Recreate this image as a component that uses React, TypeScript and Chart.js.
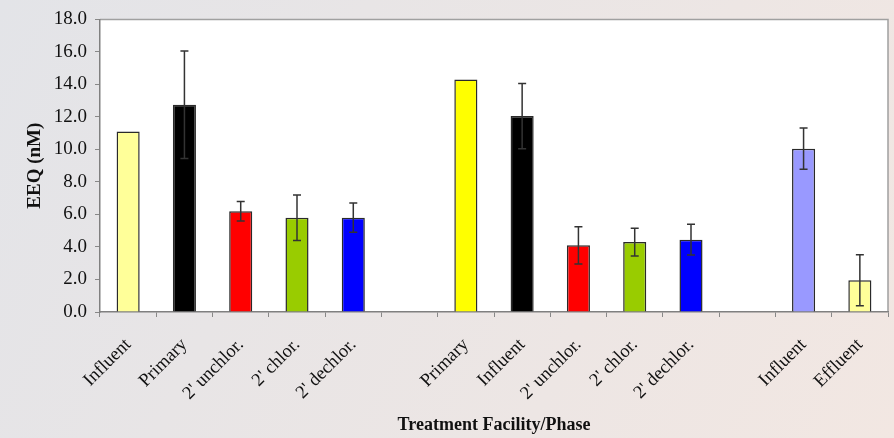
import React, { useEffect, useRef } from "react";
import { Chart, registerables } from "chart.js";

Chart.register(...registerables);

const categories = [
  "Influent", "Primary", "2' unchlor.", "2' chlor.", "2' dechlor.", "",
  "Primary", "Influent", "2' unchlor.", "2' chlor.", "2' dechlor.", "",
  "Influent", "Effluent",
];
const eeqValues = [11.1, 12.75, 6.2, 5.8, 5.8, null, 14.3, 12.05, 4.1, 4.3, 4.45, null, 10.05, 1.95];
const eeqErrors = [null, 3.3, 0.6, 1.4, 0.9, null, null, 2.0, 1.15, 0.85, 0.95, null, 1.27, 1.57];
const barColors = [
  "#ffff99", "#000000", "#ff0000", "#99cc00", "#0000ff", "#ffffff",
  "#ffff00", "#000000", "#ff0000", "#99cc00", "#0000ff", "#ffffff",
  "#9999ff", "#ffff99",
];
const yTicks = [0, 2, 4, 6, 8, 10, 12, 14, 16, 18];

const FONT = "'Liberation Serif', 'Times New Roman', serif";

const bgPlugin = {
  id: "bgPlugin",
  beforeDraw(chart: any) {
    const { ctx, width, height, chartArea } = chart;
    ctx.save();
    const g = ctx.createLinearGradient(0, 0, width, height);
    g.addColorStop(0, "#e3e4e8");
    g.addColorStop(1, "#f2e7e2");
    ctx.fillStyle = g;
    ctx.fillRect(0, 0, width, height);
    ctx.fillStyle = "#ffffff";
    ctx.fillRect(chartArea.left, chartArea.top, chartArea.right - chartArea.left, chartArea.bottom - chartArea.top);
    ctx.strokeStyle = "#a0a0a0";
    ctx.lineWidth = 1.5;
    ctx.beginPath();
    ctx.moveTo(chartArea.left, chartArea.top);
    ctx.lineTo(chartArea.right, chartArea.top);
    ctx.lineTo(chartArea.right, chartArea.bottom);
    ctx.stroke();
    ctx.restore();
  },
};

const errorBarPlugin = {
  id: "errorBarPlugin",
  afterDatasetsDraw(chart: any) {
    const { ctx } = chart;
    const meta = chart.getDatasetMeta(0);
    const y = chart.scales.y;
    ctx.save();
    ctx.strokeStyle = "#333333";
    ctx.lineWidth = 1.5;
    meta.data.forEach((bar: any, i: number) => {
      const v = eeqValues[i];
      const e = eeqErrors[i];
      if (v == null || e == null) return;
      const x = bar.x;
      const yTop = y.getPixelForValue(v + e);
      const yBot = y.getPixelForValue(Math.max(0, v - e));
      const cap = 4;
      ctx.beginPath();
      ctx.moveTo(x, yTop);
      ctx.lineTo(x, yBot);
      ctx.moveTo(x - cap, yTop);
      ctx.lineTo(x + cap, yTop);
      ctx.moveTo(x - cap, yBot);
      ctx.lineTo(x + cap, yBot);
      ctx.stroke();
    });
    ctx.restore();
  },
};

export default function App() {
  const ref = useRef<HTMLCanvasElement | null>(null);
  useEffect(() => {
    if (!ref.current) return;
    const chart = new Chart(ref.current, {
      type: "bar",
      data: {
        labels: categories,
        datasets: [
          {
            data: eeqValues as any,
            backgroundColor: barColors,
            borderColor: "#2a2a2a",
            borderWidth: 1.5,
            categoryPercentage: 1,
            barPercentage: 0.41,
          },
        ],
      },
      options: {
        animation: false,
        responsive: false,
        maintainAspectRatio: false,
        layout: { padding: { top: 15, right: 6, left: 0, bottom: 0 } },
        plugins: {
          legend: { display: false },
          tooltip: { enabled: false },
        },
        scales: {
          x: {
            afterFit(scale: any) {
              scale.height = 126;
            },
            grid: {
              display: true,
              drawOnChartArea: false,
              drawTicks: true,
              tickLength: 5,
              color: "#888888",
              offset: true,
            },
            border: { display: true, color: "#808080", width: 1.5 },
            ticks: {
              minRotation: 45,
              maxRotation: 45,
              autoSkip: false,
              padding: 17,
              color: "#111111",
              font: { family: FONT, size: 18.5 },
            },
            title: {
              display: true,
              text: "Treatment Facility/Phase",
              color: "#111111",
              font: { family: FONT, size: 18, weight: "bold" },
              padding: { top: 0, bottom: 2 },
            },
          },
          y: {
            min: 0,
            max: 18,
            afterFit(scale: any) {
              scale.width = 100;
            },
            afterBuildTicks(scale: any) {
              scale.ticks = yTicks.map((v) => ({ value: v }));
            },
            grid: {
              display: true,
              drawOnChartArea: false,
              drawTicks: true,
              tickLength: 5,
              color: "#888888",
            },
            border: { display: true, color: "#808080", width: 1.5 },
            ticks: {
              padding: 8,
              color: "#111111",
              font: { family: FONT, size: 19 },
              callback: (v: any) => Number(v).toFixed(1),
            },
            title: {
              display: true,
              text: "EEQ (nM)",
              color: "#111111",
              font: { family: FONT, size: 19, weight: "bold" },
              padding: { top: 24, bottom: 0 },
            },
          },
        },
      },
      plugins: [bgPlugin, errorBarPlugin],
    });
    return () => chart.destroy();
  }, []);
  return (
    <div style={{ position: "absolute", left: 0, top: 0, width: 894, height: 438 }}>
      <canvas ref={ref} width={894} height={438} style={{ display: "block" }} />
    </div>
  );
}
